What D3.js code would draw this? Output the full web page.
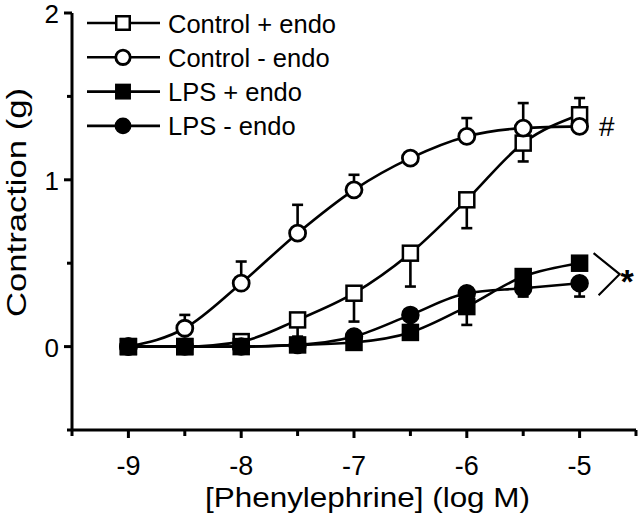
<!DOCTYPE html>
<html>
<head>
<meta charset="utf-8">
<script src="https://cdn.jsdelivr.net/npm/d3@7"></script>
<style>
  html, body { margin: 0; padding: 0; background: #fff; }
  svg { display: block; font-family: "Liberation Sans", Arial, sans-serif; }
</style>
</head>
<body>
<svg id="chart" width="640" height="523"></svg>
<script>
// ---- data ----
const logConc = [-9, -8.5, -8, -7.5, -7, -6.5, -6, -5.5, -5];

const ctrlPlusEndo  = [0, 0, 0.03, 0.16, 0.32, 0.56, 0.88, 1.22, 1.39];
const ctrlPlusErr   = [0, 0, 0.02, 0.10, 0.17, 0.20, 0.17, 0.11, 0.10];
const ctrlPlusDir   = [1, 1, 1, -1, -1, -1, -1, -1, 1];

const ctrlMinusEndo = [0, 0.11, 0.38, 0.68, 0.94, 1.13, 1.26, 1.31, 1.32];
const ctrlMinusErr  = [0, 0.08, 0.13, 0.17, 0.09, 0.03, 0.11, 0.15, 0.03];
const ctrlMinusDir  = [1, 1, 1, 1, 1, 1, 1, 1, 1];

const lpsPlusEndo   = [0, 0, 0, 0.01, 0.025, 0.085, 0.24, 0.42, 0.50];
const lpsPlusErr    = [0, 0, 0, 0, 0.02, 0.03, 0.11, 0.06, 0.03];
const lpsPlusDir    = [-1, -1, -1, -1, -1, -1, -1, -1, -1];

const lpsMinusEndo  = [0, 0, 0, 0.01, 0.06, 0.19, 0.32, 0.35, 0.38];
const lpsMinusErr   = [0, 0, 0, 0, 0.02, 0.03, 0.03, 0.05, 0.08];
const lpsMinusDir   = [-1, -1, -1, -1, -1, -1, -1, -1, -1];

const seriesNames = ["Control + endo", "Control - endo", "LPS + endo", "LPS - endo"];
const xTickValues = [-9, -8, -7, -6, -5];
const yTickValues = [0, 1, 2];
const xLabel = "[Phenylephrine] (log M)";
const yLabel = "Contraction (g)";

// ---- layout ----
const svg = d3.select("#chart");
const x = d3.scaleLinear().domain([-9.5, -4.5]).range([72, 636]);
const y = d3.scaleLinear().domain([-0.5, 2]).range([430, 13]);

const series = [
  { name: seriesNames[0], vals: ctrlPlusEndo,  err: ctrlPlusErr,  dir: ctrlPlusDir,  shape: "square", fill: "#fff" },
  { name: seriesNames[1], vals: ctrlMinusEndo, err: ctrlMinusErr, dir: ctrlMinusDir, shape: "circle", fill: "#fff" },
  { name: seriesNames[2], vals: lpsPlusEndo,   err: lpsPlusErr,   dir: lpsPlusDir,   shape: "square", fill: "#000" },
  { name: seriesNames[3], vals: lpsMinusEndo,  err: lpsMinusErr,  dir: lpsMinusDir,  shape: "circle", fill: "#000" }
];

// ---- axes ----
const xAxis = svg.append("g").attr("transform", `translate(0,${y(-0.5)})`);
xAxis.append("line").attr("x1", x(-9.5)).attr("x2", x(-4.5)).attr("stroke", "#000").attr("stroke-width", 3);
const xMinor = d3.range(-9.5, -4.49, 0.5);
xAxis.selectAll(".xt").data(xMinor).join("line")
  .attr("x1", d => x(d)).attr("x2", d => x(d))
  .attr("y1", 0).attr("y2", d => Number.isInteger(d) ? 8 : 6)
  .attr("stroke", "#000").attr("stroke-width", 3);
xAxis.selectAll(".xl").data(xTickValues).join("text")
  .attr("x", d => x(d)).attr("y", 45)
  .attr("text-anchor", "middle").attr("font-size", 27)
  .text(d => String(d));

const yAxis = svg.append("g").attr("transform", `translate(${x(-9.5)},0)`);
yAxis.append("line").attr("y1", y(-0.5)).attr("y2", y(2)).attr("stroke", "#000").attr("stroke-width", 3);
const yMinor = d3.range(-0.5, 2.01, 0.5);
yAxis.selectAll(".yt").data(yMinor).join("line")
  .attr("y1", d => y(d)).attr("y2", d => y(d))
  .attr("x1", d => Number.isInteger(d) ? -8 : -5).attr("x2", 0)
  .attr("stroke", "#000").attr("stroke-width", 3);
yAxis.selectAll(".yl").data(yTickValues).join("text")
  .attr("x", -13).attr("y", d => y(d) + 10)
  .attr("text-anchor", "end").attr("font-size", 26)
  .text(d => String(d));

svg.append("text")
  .attr("x", (205 + 530) / 2).attr("y", 507)
  .attr("text-anchor", "middle").attr("font-size", 28)
  .attr("textLength", 325).attr("lengthAdjust", "spacingAndGlyphs")
  .text(xLabel);

svg.append("text")
  .attr("transform", `translate(26,${(88 + 317) / 2}) rotate(-90)`)
  .attr("text-anchor", "middle").attr("font-size", 28)
  .attr("textLength", 229).attr("lengthAdjust", "spacingAndGlyphs")
  .text(yLabel);

// ---- lines ----
const line = d3.line().x((d, i) => x(logConc[i])).y(d => y(d)).curve(d3.curveMonotoneX);
const plot = svg.append("g");
series.forEach(s => {
  plot.append("path").attr("d", line(s.vals))
    .attr("fill", "none").attr("stroke", "#000").attr("stroke-width", 2.6);
});

// ---- error bars ----
series.forEach(s => {
  const pts = s.vals.map((v, i) => ({ cx: logConc[i], v, e: s.err[i], d: s.dir[i] })).filter(p => p.e > 0);
  const g = plot.append("g").attr("stroke", "#000").attr("stroke-width", 2.6);
  g.selectAll(".eb").data(pts).join("line")
    .attr("x1", p => x(p.cx)).attr("x2", p => x(p.cx))
    .attr("y1", p => y(p.v)).attr("y2", p => y(p.v + p.d * p.e));
  g.selectAll(".ec").data(pts).join("line")
    .attr("x1", p => x(p.cx) - 5.5).attr("x2", p => x(p.cx) + 5.5)
    .attr("y1", p => y(p.v + p.d * p.e)).attr("y2", p => y(p.v + p.d * p.e));
});

// ---- markers ----
function drawMarker(g, shape, fill, cx, cy, scale) {
  const k = scale || 1;
  if (shape === "square") {
    const h = (fill === "#000" ? 8 : 7.5) * k;
    g.append("rect").attr("x", cx - h).attr("y", cy - h).attr("width", 2 * h).attr("height", 2 * h)
      .attr("fill", fill).attr("stroke", "#000").attr("stroke-width", fill === "#000" ? 1.5 : 2.5);
  } else {
    g.append("circle").attr("cx", cx).attr("cy", cy).attr("r", (fill === "#000" ? 8.5 : 8) * k)
      .attr("fill", fill).attr("stroke", "#000").attr("stroke-width", fill === "#000" ? 1.5 : 2.8);
  }
}
series.forEach(s => {
  const g = plot.append("g");
  s.vals.forEach((v, i) => drawMarker(g, s.shape, s.fill, x(logConc[i]), y(v)));
});

// ---- legend ----
const legend = svg.append("g");
series.forEach((s, i) => {
  const ry = 23 + i * 34.3;
  legend.append("line").attr("x1", 87).attr("x2", 160).attr("y1", ry).attr("y2", ry)
    .attr("stroke", "#000").attr("stroke-width", 2.6);
  drawMarker(legend, s.shape, s.fill, 123, ry, 0.9);
  legend.append("text").attr("x", 168).attr("y", ry + 9.5)
    .attr("font-size", 25.5).text(s.name);
});

// ---- annotations ----
const last = logConc.length - 1;
svg.append("text")
  .attr("x", x(-5) + 19).attr("y", y(ctrlMinusEndo[last]) + 10)
  .attr("font-size", 28).attr("font-style", "italic").text("#");
const bTop = y(lpsPlusEndo[last]) - 10, bBot = y(lpsMinusEndo[last]) + 12;
const bx = x(-5) + 14;
svg.append("path")
  .attr("d", `M${bx},${bTop} L${bx + 26},${(bTop + bBot) / 2} L${bx + 5},${bBot}`)
  .attr("fill", "none").attr("stroke", "#000").attr("stroke-width", 2.2);
svg.append("text")
  .attr("x", bx + 27).attr("y", (bTop + bBot) / 2 + 19)
  .attr("font-size", 34).attr("font-weight", "bold").text("*");
</script>
</body>
</html>
